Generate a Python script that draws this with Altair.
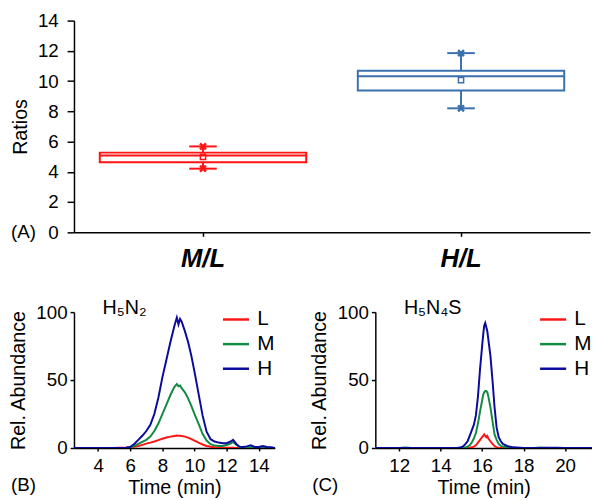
import altair as alt
import pandas as pd

FONT = "Liberation Sans"

# ---------------- Panel A : box statistics ----------------
ratio_cats = ["M/L", "H/L"]
ratio_min = [4.21, 8.20]
ratio_q1 = [4.63, 9.38]
ratio_median = [5.08, 10.32]
ratio_mean = [4.99, 10.06]
ratio_q3 = [5.27, 10.69]
ratio_max = [5.68, 11.85]
ratio_colors = ["#ff1414", "#3a70ad"]
ratio_ticks = [0, 2, 4, 6, 8, 10, 12, 14]

# ---------------- Panel B : H5N2 chromatogram ----------------
b_time = [2.5, 3.0, 3.5, 4.0, 4.5, 5.0, 5.25, 5.5, 5.75, 6.0,
          6.25, 6.5, 6.75, 7.0, 7.25, 7.5, 7.75, 8.0, 8.25, 8.5,
          8.75, 8.9, 9.0, 9.1, 9.2, 9.4, 9.6, 9.8, 10.0, 10.25,
          10.5, 10.75, 11.0, 11.25, 11.5, 11.75, 12.0, 12.25, 12.4, 12.6,
          12.8, 13.0, 13.25, 13.5, 13.75, 14.0, 14.25, 14.5, 14.75, 15.0]
b_L = [0, 0, 0, 0, 0, 0, 0.3, 0.3, 0.4, 0.6,
       0.9, 1.5, 2.3, 3.2, 4.0, 4.8, 5.8, 6.8, 7.7, 8.4,
       8.9, 9.2, 9.0, 9.1, 8.8, 8.4, 7.6, 6.6, 5.5, 4.0,
       2.6, 1.5, 0.9, 0.5, 0.3, 0.2, 0.2, 0.2, 0.2, 0.1,
       0, 0, 0, 0, 0, 0, 0, 0, 0, 0]
b_M = [0, 0, 0, 0, 0, 0, 0, 0, 0.2, 0.5,
       1.5, 3.0, 4.5, 6.0, 8.5, 12.5, 18, 25, 32, 39,
       45, 47, 45.5, 46, 44, 41, 36.5, 31, 25, 18,
       10.5, 5.5, 2.8, 1.8, 1.5, 1.5, 2.2, 3.2, 4.5, 2.5,
       0.6, 0.3, 0.3, 0.5, 0.3, 0.3, 0.3, 0.2, 0.2, 0]
b_H = [0, 0, 0, 0, 0, 0, 0, 0, 0.3, 0.8,
       3.0, 6.0, 9.0, 12.5, 17, 25, 37, 52, 65, 78,
       90, 96, 91, 95, 93, 86, 78, 68, 56, 40,
       24, 12, 6.5, 4.8, 4.0, 3.5, 3.5, 4.8, 6.0, 3.0,
       1.0, 0.8, 1.2, 2.0, 0.8, 0.8, 1.5, 0.8, 0.5, 0]
b_ticks = [4, 6, 8, 10, 12, 14]

# ---------------- Panel C : H5N4S chromatogram ----------------
c_time = [10.85, 11.5, 12.0, 12.3, 12.6, 13.0, 13.5, 14.0, 14.5, 14.8,
          15.0, 15.1, 15.2, 15.3, 15.4, 15.5, 15.6, 15.7, 15.8, 15.9,
          16.0, 16.05, 16.1, 16.15, 16.2, 16.25, 16.3, 16.4, 16.5, 16.6,
          16.7, 16.8, 16.9, 17.0, 17.2, 17.5, 18.0, 18.5, 18.8, 19.2,
          19.6, 20.0, 20.5, 21.3]
c_L = [0, 0, 0, 0, 0, 0, 0, 0, 0, 0,
       0, 0, 0, 0, 0.2, 0.5, 1.0, 2.0, 4.0, 6.0,
       8.0, 9.0, 10.0, 9.0, 8.0, 8.8, 7.0, 5.0, 3.0, 1.5,
       0.5, 0, 0, 0, 0, 0, 0, 0, 0, 0,
       0, 0, 0, 0]
c_M = [0, 0, 0, 0.3, 0, 0, 0, 0, 0, 0,
       0, 0.3, 0.5, 1.0, 2.0, 4.0, 7.0, 11, 18, 27,
       35, 39, 41, 42, 42, 41, 38, 30, 20, 10,
       6.0, 3.0, 1.5, 1.0, 0.5, 0, 0, 0, 0.3, 0,
       0, 0, 0, 0]
c_H = [0, 0, 0, 0, 0, 0, 0, 0, 0, 0,
       0.5, 1.5, 3.0, 5.0, 9.0, 13, 17, 24, 38, 58,
       75, 83, 90, 92, 89, 86, 80, 68, 50, 30,
       15, 8, 5, 3, 1.5, 0.5, 0, 0, 0, 0.3,
       0.3, 0, 0, 0]
c_ticks = [12, 14, 16, 18, 20]

series_names = ["L", "M", "H"]
series_colors = ["#ff1414", "#138a43", "#0a0a9c"]
abund_ticks = [0, 50, 100]

# ---------------- Panel A chart ----------------
box_df = pd.DataFrame({
    "cat": ratio_cats, "min": ratio_min, "q1": ratio_q1, "median": ratio_median,
    "mean": ratio_mean, "q3": ratio_q3, "max": ratio_max,
})

xA = alt.X("cat:N", sort=ratio_cats,
           scale=alt.Scale(domain=ratio_cats, paddingInner=0, paddingOuter=0),
           axis=alt.Axis(title=None, labelAngle=0, labelFontSize=26, labelFontStyle="italic",
                         labelFontWeight="bold", tickSize=4, labelPadding=10))


def yA(field):
    return alt.Y(f"{field}:Q", scale=alt.Scale(domain=[0, 14], nice=False),
                 axis=alt.Axis(values=ratio_ticks, title="Ratios", titleFontSize=20,
                               labelFontSize=19, tickSize=7, labelPadding=9, titlePadding=7))


colA = alt.Color("cat:N", scale=alt.Scale(domain=ratio_cats, range=ratio_colors), legend=None)
X_SHAPE = "M-1,-1L1,1M1,-1L-1,1"

baseA = alt.Chart(box_df)
box = baseA.mark_bar(width={"band": 0.8}, fill="transparent", strokeWidth=2).encode(
    x=xA, y=yA("q1"), y2="q3:Q", stroke=colA)
med = baseA.mark_bar(width={"band": 0.8}, fill="transparent", strokeWidth=2).encode(
    x=xA, y=yA("median"), y2="median:Q", stroke=colA)
wlo = baseA.mark_rule(strokeWidth=2).encode(x=xA, y=yA("min"), y2="q1:Q", stroke=colA)
whi = baseA.mark_rule(strokeWidth=2).encode(x=xA, y=yA("q3"), y2="max:Q", stroke=colA)
cap_lo = baseA.mark_tick(size=28, thickness=2, opacity=1).encode(x=xA, y=yA("min"), color=colA)
cap_hi = baseA.mark_tick(size=28, thickness=2, opacity=1).encode(x=xA, y=yA("max"), color=colA)
mk_lo = baseA.mark_point(shape=X_SHAPE, size=36, filled=False, strokeWidth=2.5, opacity=1).encode(
    x=xA, y=yA("min"), color=colA)
mk_hi = baseA.mark_point(shape=X_SHAPE, size=36, filled=False, strokeWidth=2.5, opacity=1).encode(
    x=xA, y=yA("max"), color=colA)
mean_pt = baseA.mark_point(shape="square", size=28, filled=False, strokeWidth=1.5, opacity=1).encode(
    x=xA, y=yA("mean"), color=colA)
labA = alt.Chart(pd.DataFrame({"t": ["(A)"]})).mark_text(
    align="left", baseline="middle", fontSize=19, font=FONT, color="black").encode(
    x=alt.value(-64), y=alt.value(215), text="t:N")

top = alt.layer(box, med, wlo, whi, cap_lo, cap_hi, mk_lo, mk_hi, mean_pt, labA).properties(
    width=524, height=215)


# ---------------- chromatogram panels ----------------
def chrom(times, L, M, H, domain, ticks, width, formula, letter, legend_x):
    n = len(times)
    df = pd.DataFrame({
        "t": list(times) * 3,
        "v": list(L) + list(M) + list(H),
        "s": ["L"] * n + ["M"] * n + ["H"] * n,
    })
    lines = alt.Chart(df).mark_line(strokeWidth=2, clip=True).encode(
        x=alt.X("t:Q", scale=alt.Scale(domain=domain, nice=False, zero=False),
                axis=alt.Axis(values=ticks, title="Time (min)", titleFontSize=20,
                              labelFontSize=19, tickSize=3, labelPadding=6, titlePadding=2)),
        y=alt.Y("v:Q", scale=alt.Scale(domain=[0, 100], nice=False),
                axis=alt.Axis(values=abund_ticks, title="Rel. Abundance", titleFontSize=20,
                              labelFontSize=19, tickSize=4, labelPadding=3, titlePadding=8)),
        color=alt.Color("s:N", scale=alt.Scale(domain=series_names, range=series_colors),
                        legend=alt.Legend(orient="none", legendX=legend_x, legendY=-7, title=None,
                                          symbolType="stroke", symbolSize=700, symbolStrokeWidth=2.5,
                                          labelFontSize=21, labelFont=FONT, rowPadding=0, padding=0,
                                          labelOffset=7)),
        order=alt.Order("t:Q"),
    )
    name = alt.Chart(pd.DataFrame({"t": [formula]})).mark_text(
        align="left", baseline="alphabetic", fontSize=20, font=FONT, color="black").encode(
        x=alt.value(29), y=alt.value(2), text="t:N")
    lab = alt.Chart(pd.DataFrame({"t": [letter]})).mark_text(
        align="left", baseline="middle", fontSize=19, font=FONT, color="black").encode(
        x=alt.value(-64), y=alt.value(176), text="t:N")
    return alt.layer(lines, name, lab).properties(width=width, height=138)


panelB = chrom(b_time, b_L, b_M, b_H, [2.5, 15], b_ticks, 204, "H₅N₂", "(B)", 150)
panelC = chrom(c_time, c_L, c_M, c_H, [10.85, 21.3], c_ticks, 220, "H₅N₄S", "(C)", 166)

bottom = alt.hconcat(panelB, panelC, spacing=35).resolve_scale(color="independent")

chart = alt.vconcat(top, bottom, spacing=27).resolve_scale(color="independent").properties(
    padding=0
).configure_view(stroke=None).configure_axis(
    grid=False, labelFont=FONT, titleFont=FONT, labelColor="black", titleColor="black",
    domainColor="black", tickColor="black", titleFontWeight="normal", domainWidth=1.5, tickWidth=1.5,
    labelFontSize=19, titleFontSize=20
).configure_text(font=FONT)

chart.save("out.html", embed_options={"renderer": "svg", "actions": False})
